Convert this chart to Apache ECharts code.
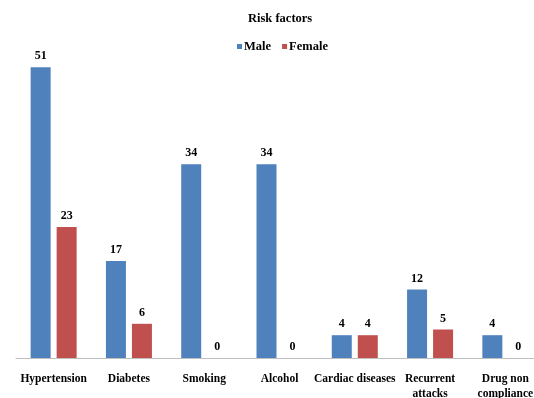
<!DOCTYPE html>
<html><head><meta charset="utf-8">
<script src="https://cdn.jsdelivr.net/npm/echarts@6/dist/echarts.min.js"></script>
<style>html,body{margin:0;padding:0;background:#fff}#c{width:534px;height:398px}</style>
</head><body><div id="c"></div>
<script>
const categories = ["Hypertension","Diabetes","Smoking","Alcohol","Cardiac diseases","Recurrent\nattacks","Drug non\ncompliance"];
const male = [51,17,34,34,4,12,4];
const female = [23,6,0,0,4,5,0];
const font = "Liberation Serif";
const chart = echarts.init(document.getElementById('c'));
const lbl = {show:true,position:'top',distance:5,color:'#000',fontFamily:font,fontWeight:'bold',fontSize:12};
chart.setOption({
  animation:false,
  title:{text:'Risk factors',left:243,top:7,textStyle:{fontFamily:font,fontWeight:'bold',fontSize:12.5,color:'#000'}},
  legend:{top:35,left:232,itemWidth:5,itemHeight:5,itemGap:11,icon:'rect',
    textStyle:{fontFamily:font,fontWeight:'bold',fontSize:12.5,color:'#000',padding:[0,0,0,-3]},data:['Male','Female']},
  grid:{left:16,width:527,top:16,height:342,containLabel:false,outerBoundsMode:'none'},
  xAxis:{type:'category',data:categories,
    axisLine:{lineStyle:{color:'#bfbfbf',width:1}},axisTick:{show:false},
    axisLabel:{interval:0,color:'#000',fontFamily:font,fontWeight:'bold',fontSize:11.5,margin:14,lineHeight:15}},
  yAxis:{type:'value',min:0,max:60,show:false,splitLine:{show:false}},
  series:[
    {name:'Male',type:'bar',data:male,barWidth:20,barGap:'30%',itemStyle:{color:'#4F81BD'},label:lbl},
    {name:'Female',type:'bar',data:female,barWidth:20,itemStyle:{color:'#C0504D'},label:lbl}
  ]
});
</script></body></html>
